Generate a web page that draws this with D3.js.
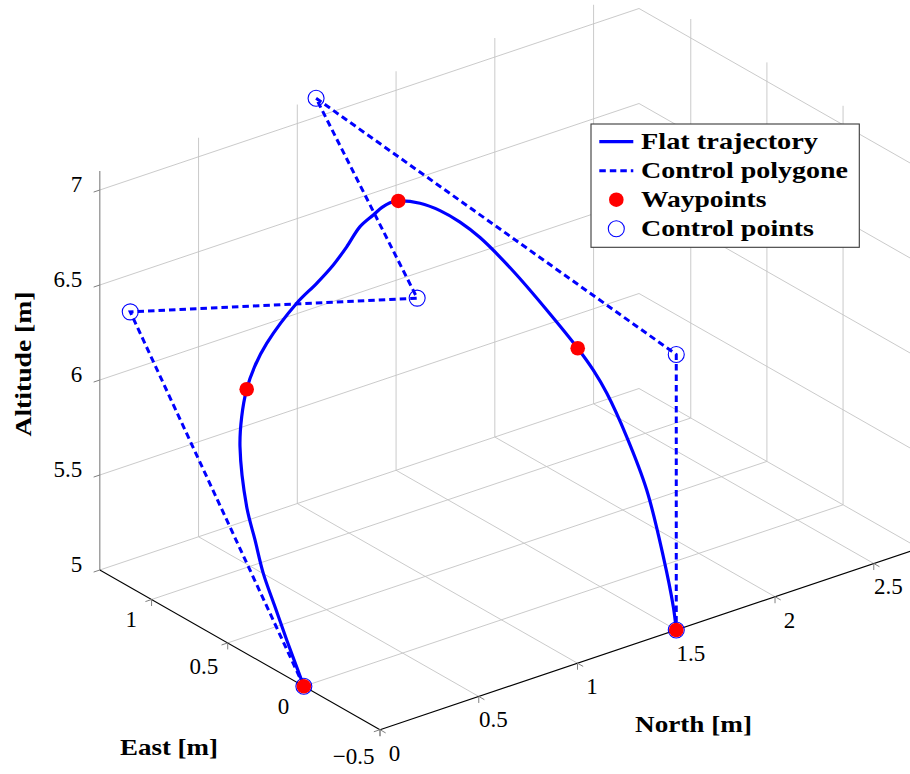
<!DOCTYPE html>
<html><head><meta charset="utf-8">
<script src="https://cdn.jsdelivr.net/npm/d3@7"></script>
<style>html,body{margin:0;padding:0;background:#fff;} svg{display:block;}</style>
</head><body>
<svg id="chart" width="910" height="774"></svg>
<script>
// ---------- data ----------
const northRange = [0, 2.73];
const eastRange  = [-0.5, 1.34];
const altRange   = [5, 7.1];
const northTicks = [0, 0.5, 1, 1.5, 2, 2.5];
const eastTicks  = [-0.5, 0, 0.5, 1];
const altTicks   = [5, 5.5, 6, 6.5, 7];

const trajNorth = [0, 0.0288, 0.0466, 0.0645, 0.0996, 0.1346, 0.2549, 0.3792, 0.4816, 0.5366, 0.6214, 0.7733, 0.8592, 0.9201, 0.9494, 0.9782, 0.9839, 1.0048, 1.0221, 1.0333, 1.0892, 1.1365, 1.1838, 1.2311, 1.3072, 1.3915, 1.479, 1.4964, 1.5025, 1.5267, 1.5046, 1.4961, 1.5005, 1.5];
const trajEast  = [0, 0.15, 0.25, 0.35, 0.45, 0.55, 0.75, 0.9, 1.0, 1.02, 1.05, 1.05, 1.03, 1.0, 0.95, 0.9, 0.82, 0.79, 0.76, 0.72, 0.65, 0.58, 0.51, 0.44, 0.32, 0.21, 0.12, 0.04, -0.04, -0.14, -0.3, -0.42, -0.48, -0.5];
const trajAlt   = [5, 5.165, 5.288, 5.412, 5.530, 5.647, 5.829, 5.875, 5.938, 6.028, 6.108, 6.266, 6.350, 6.439, 6.547, 6.666, 6.762, 6.808, 6.840, 6.864, 6.864, 6.841, 6.796, 6.730, 6.581, 6.398, 6.207, 6.122, 6.036, 5.843, 5.644, 5.351, 5.113, 5];

const wpNorth = [0, 0.4816, 1.0333, 1.479, 1.5];
const wpEast  = [0, 1.0, 0.72, 0.12, -0.5];
const wpAlt   = [5, 5.938, 6.864, 6.207, 5];

const cpNorth = [0, 0, 0.99, 1.095, 1.5, 1.5];
const cpEast  = [0, 1.14, 0.54, 1.34, -0.5, -0.5];
const cpAlt   = [5, 6.45, 6.45, 7.1, 6.45, 5];

const legendLabels = ["Flat trajectory", "Control polygone", "Waypoints", "Control points"];

// ---------- projection ----------
const origin = [380, 729.7];
const edgeN = [539.2, -181.5], edgeE = [-280.2, -159.7], edgeZ = [0, -399];
const fN = d3.scaleLinear().domain(northRange).range([0, 1]);
const fE = d3.scaleLinear().domain(eastRange).range([0, 1]);
const fZ = d3.scaleLinear().domain(altRange).range([0, 1]);
function proj(n, e, z) {
  const a = fN(n), b = fE(e), c = fZ(z);
  return [origin[0] + a*edgeN[0] + b*edgeE[0] + c*edgeZ[0],
          origin[1] + a*edgeN[1] + b*edgeE[1] + c*edgeZ[1]];
}
function unit(v){const l=Math.hypot(v[0],v[1]);return [v[0]/l,v[1]/l];}
const uN = unit(edgeN), uE = unit(edgeE);

const [Nmin, Nmax] = northRange, [Emin, Emax] = eastRange, [Zmin, Zmax] = altRange;
const svg = d3.select("#chart");
const gGrid = svg.append("g");
const gAxes = svg.append("g");
const gPlot = svg.append("g");
const gLeg = svg.append("g");

function seg(g, p, q, stroke, w) {
  g.append("line").attr("x1", p[0]).attr("y1", p[1]).attr("x2", q[0]).attr("y2", q[1])
    .attr("stroke", stroke).attr("stroke-width", w);
}
const gridCol = "#c4c4c4", gridW = 0.9;

// left back wall (East = max)
northTicks.filter(n => n > Nmin).forEach(n => seg(gGrid, proj(n, Emax, Zmin), proj(n, Emax, Zmax), gridCol, gridW));
altTicks.forEach(z => seg(gGrid, proj(Nmin, Emax, z), proj(Nmax, Emax, z), gridCol, gridW));
// right back wall (North = max)
eastTicks.forEach(e => seg(gGrid, proj(Nmax, e, Zmin), proj(Nmax, e, Zmax), gridCol, gridW));
altTicks.forEach(z => seg(gGrid, proj(Nmax, Emax, z), proj(Nmax, Emin, z), gridCol, gridW));
// floor
northTicks.filter(n => n > Nmin).forEach(n => seg(gGrid, proj(n, Emin, Zmin), proj(n, Emax, Zmin), gridCol, gridW));
eastTicks.filter(e => e > Emin).forEach(e => seg(gGrid, proj(Nmin, e, Zmin), proj(Nmax, e, Zmin), gridCol, gridW));

// axis lines
seg(gAxes, proj(Nmin, Emax, Zmin), proj(Nmin, Emax, Zmax), "#8a8a8a", 1.2);
seg(gAxes, proj(Nmin, Emin, Zmin), proj(Nmin, Emax, Zmin), "#000", 1.1);
seg(gAxes, proj(Nmin, Emin, Zmin), proj(Nmax, Emin, Zmin), "#000", 1.1);

const tickCol = "#808080", tl = 6.5;
const font = "'Liberation Serif', 'Times New Roman', serif";

// z ticks + labels
altTicks.forEach(z => {
  const p = proj(Nmin, Emax, z);
  seg(gAxes, p, [p[0] - uN[0]*tl, p[1] - uN[1]*tl], tickCol, 1);
  gAxes.append("text").attr("x", p[0] - 17.5).attr("y", p[1] + 2)
    .attr("text-anchor", "end").attr("font-family", font).attr("font-size", 23)
    .text(d3.format("")(z));
});
const fmt = v => (v < 0 ? "\u2212" : "") + Math.abs(v);
// East ticks + labels
eastTicks.forEach(e => {
  const p = proj(Nmin, e, Zmin);
  seg(gAxes, p, [p[0], p[1] + tl], tickCol, 1);
  seg(gAxes, p, [p[0] - uN[0]*tl, p[1] - uN[1]*tl], tickCol, 1);
  const t = gAxes.append("text").attr("font-family", font).attr("font-size", 23)
    .attr("text-anchor", "middle").text(fmt(e));
  const w = t.node().getComputedTextLength();
  const off = 18 + 0.2*w;
  t.attr("x", p[0] - off).attr("y", p[1] + off + 7.5);
});
// North ticks + labels
northTicks.forEach(n => {
  const p = proj(n, Emin, Zmin);
  seg(gAxes, p, [p[0], p[1] + tl], tickCol, 1);
  seg(gAxes, p, [p[0] - uE[0]*tl, p[1] - uE[1]*tl], tickCol, 1);
  gAxes.append("text").attr("font-family", font).attr("font-size", 23)
    .attr("text-anchor", "middle").attr("x", p[0] + 14.5).attr("y", p[1] + 23.5 + 7.5)
    .text(fmt(n));
});

// axis labels
function boldLabel(g, txt, len) {
  return g.append("text").attr("font-family", font).attr("font-size", 23.5)
    .attr("font-weight", "bold").attr("textLength", len)
    .attr("lengthAdjust", "spacingAndGlyphs").text(txt);
}
boldLabel(gAxes, "North [m]", 117).attr("x", 635).attr("y", 732);
boldLabel(gAxes, "East [m]", 98).attr("x", 120).attr("y", 754.5);
boldLabel(gAxes, "Altitude [m]", 145).attr("text-anchor", "middle")
  .attr("transform", "translate(30.5,364) rotate(-90)");

// ---------- plots ----------
const blue = "#0000ff", red = "#ff0000";
const traj = trajNorth.map((n, i) => proj(n, trajEast[i], trajAlt[i]));
const ctrl = cpNorth.map((n, i) => proj(n, cpEast[i], cpAlt[i]));
const wps  = wpNorth.map((n, i) => proj(n, wpEast[i], wpAlt[i]));

gPlot.append("path").attr("d", d3.line().curve(d3.curveCatmullRom.alpha(0.5))(traj))
  .attr("fill", "none").attr("stroke", blue).attr("stroke-width", 3.2)
  .attr("stroke-linejoin", "round");
gPlot.append("path").attr("d", d3.line()(ctrl))
  .attr("fill", "none").attr("stroke", blue).attr("stroke-width", 3)
  .attr("stroke-dasharray", "6.5,4");
gPlot.selectAll(".cp").data(ctrl).enter().append("circle")
  .attr("cx", d => d[0]).attr("cy", d => d[1]).attr("r", 8)
  .attr("fill", "none").attr("stroke", blue).attr("stroke-width", 1.1);
gPlot.selectAll(".wp").data(wps).enter().append("circle")
  .attr("cx", d => d[0]).attr("cy", d => d[1]).attr("r", 7.3)
  .attr("fill", red);

// ---------- legend ----------
gLeg.append("rect").attr("x", 591).attr("y", 124).attr("width", 268.3).attr("height", 123.3)
  .attr("fill", "#fff").attr("stroke", "#3a3a3a").attr("stroke-width", 1.1);
const rowY = [141.7, 170.7, 199.7, 228.7];
const textLens = [177, 207, 125.5, 173];
seg(gLeg, [599.3, rowY[0]], [633.3, rowY[0]], blue, 3.2);
gLeg.append("line").attr("x1", 599.3).attr("y1", rowY[1]).attr("x2", 633.3).attr("y2", rowY[1])
  .attr("stroke", blue).attr("stroke-width", 3).attr("stroke-dasharray", "6.5,4");
gLeg.append("circle").attr("cx", 616.3).attr("cy", rowY[2]).attr("r", 7.3).attr("fill", red);
gLeg.append("circle").attr("cx", 616.3).attr("cy", rowY[3]).attr("r", 8)
  .attr("fill", "none").attr("stroke", blue).attr("stroke-width", 1.1);
legendLabels.forEach((l, i) => {
  boldLabel(gLeg, l, textLens[i]).attr("x", 641).attr("y", rowY[i] + 7.6);
});
</script>
</body></html>
